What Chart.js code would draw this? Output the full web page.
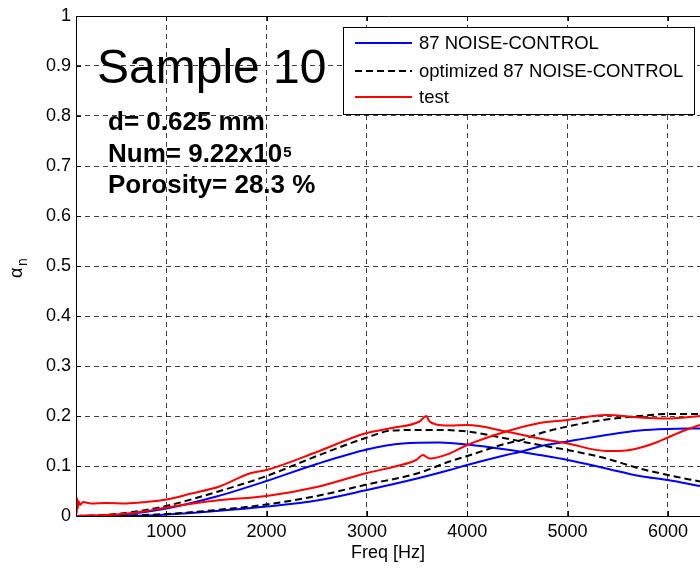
<!DOCTYPE html>
<html>
<head>
<meta charset="utf-8">
<script src="https://cdn.jsdelivr.net/npm/chart.js@4.4.0/dist/chart.umd.min.js"></script>
<style>
  html, body { margin: 0; padding: 0; background: #fff; }
</style>
</head>
<body>
<canvas id="alphaChart" width="700" height="568"></canvas>
<script>
// absorption curves, two branches per series
const blueUpperFreq = [100, 500, 1000, 1500, 2000, 2500, 3000, 3357, 3724, 4000, 4389, 4721, 5000, 5386, 5718, 6000, 6320];
const blueUpperAlpha = [0, 0.002, 0.015, 0.039, 0.07, 0.104, 0.133, 0.145, 0.147, 0.143, 0.133, 0.122, 0.112, 0.095, 0.08, 0.072, 0.06];
const blueLowerFreq = [100, 800, 1000, 1500, 2000, 2500, 3000, 3500, 3824, 4000, 4389, 4524, 4721, 5000, 5386, 5718, 6000, 6320];
const blueLowerAlpha = [0, 0.001, 0.003, 0.01, 0.019, 0.031, 0.052, 0.075, 0.092, 0.102, 0.122, 0.128, 0.139, 0.149, 0.162, 0.171, 0.174, 0.175];

const optUpperFreq = [100, 400, 700, 1000, 1500, 2000, 2500, 3000, 3250, 3500, 3724, 4000, 4389, 4721, 5000, 5386, 5718, 6000, 6320];
const optUpperAlpha = [0, 0.002, 0.009, 0.02, 0.048, 0.08, 0.12, 0.157, 0.171, 0.172, 0.172, 0.169, 0.155, 0.142, 0.132, 0.115, 0.095, 0.082, 0.069];
const optLowerFreq = [100, 600, 1000, 1500, 2000, 2500, 3000, 3500, 3824, 4000, 4389, 4524, 4721, 5000, 5386, 5718, 6000, 6320];
const optLowerAlpha = [0, 0.001, 0.004, 0.012, 0.023, 0.04, 0.063, 0.085, 0.109, 0.12, 0.145, 0.151, 0.165, 0.179, 0.193, 0.2, 0.204, 0.204];

const testUpperFreq = [100, 104, 108, 112, 118, 125, 140, 170, 250, 400, 600, 800, 1000, 1250, 1530, 1830, 2000, 2500, 2980, 3250, 3525, 3592, 3620, 3691, 3824, 4000, 4389, 4721, 5000, 5386, 5585, 5750, 5884, 6000, 6150, 6320];
const testUpperAlpha = [0, 0.04, 0.005, 0.035, 0.015, 0.03, 0.022, 0.028, 0.025, 0.026, 0.025, 0.028, 0.033, 0.045, 0.059, 0.085, 0.092, 0.128, 0.165, 0.176, 0.189, 0.2, 0.19, 0.183, 0.181, 0.182, 0.169, 0.155, 0.145, 0.13, 0.131, 0.138, 0.147, 0.157, 0.17, 0.182];
const testLowerFreq = [100, 500, 800, 1000, 1500, 2000, 2500, 3000, 3300, 3490, 3558, 3625, 3824, 4000, 4389, 4721, 5000, 5386, 5718, 6000, 6320];
const testLowerAlpha = [0, 0.003, 0.01, 0.017, 0.031, 0.04, 0.058, 0.086, 0.1, 0.112, 0.122, 0.115, 0.125, 0.142, 0.169, 0.186, 0.192, 0.202, 0.197, 0.195, 0.2];

const freqTicks = [1000, 2000, 3000, 4000, 5000, 6000];
const seriesNames = ['87 NOISE-CONTROL', 'optimized 87 NOISE-CONTROL', 'test'];
const noteLines = ['d= 0.625 mm', 'Num= 9.22x10', 'Porosity= 28.3 %'];

const FONT = '"Liberation Sans", Arial, Helvetica, sans-serif';

const toPoints = (f, a) => f.map((x, i) => ({ x: x, y: a[i] }));

const lineSet = (label, f, a, color, dash, order) => ({
    label: label,
    data: toPoints(f, a),
    borderColor: color,
    borderWidth: 2,
    borderDash: dash,
    pointRadius: 0,
    fill: false,
    cubicInterpolationMode: 'monotone',
    order: order
});

// box, inward ticks, text labels and legend drawn on top
const decorations = {
    id: 'decorations',
    afterDatasetsDraw(chart) {
        const ctx = chart.ctx;
        const a = chart.chartArea;
        const xs = chart.scales.x, ys = chart.scales.y;
        ctx.save();
        ctx.strokeStyle = '#000';
        ctx.lineWidth = 1;
        ctx.setLineDash([]);
        ctx.beginPath();
        ctx.moveTo(a.left + 0.5, a.bottom + 0.5);
        ctx.lineTo(a.left + 0.5, a.top + 0.5);
        ctx.lineTo(a.right + 0.5, a.top + 0.5);
        ctx.moveTo(a.left + 0.5, a.bottom + 0.5);
        ctx.lineTo(a.right + 0.5, a.bottom + 0.5);
        xs.ticks.forEach(t => {
            const px = Math.round(xs.getPixelForValue(t.value)) + 0.5;
            ctx.moveTo(px, a.bottom); ctx.lineTo(px, a.bottom - 5);
            ctx.moveTo(px, a.top); ctx.lineTo(px, a.top + 5);
        });
        ys.ticks.forEach(t => {
            const py = Math.round(ys.getPixelForValue(t.value)) + 0.5;
            ctx.moveTo(a.left, py); ctx.lineTo(a.left + 5, py);
        });
        ctx.stroke();

        ctx.fillStyle = '#000';
        ctx.textBaseline = 'alphabetic';
        ctx.textAlign = 'left';

        // y axis title: alpha with subscript n
        ctx.save();
        ctx.translate(17, 266);
        ctx.rotate(-Math.PI / 2);
        ctx.font = '18px ' + FONT;
        ctx.fillText('α', -12, 5);
        ctx.font = '14px ' + FONT;
        ctx.fillText('n', 0, 10);
        ctx.restore();

        ctx.font = '48px ' + FONT;
        ctx.fillText('Sample 10', 97, 83);

        ctx.font = 'bold 26px ' + FONT;
        ctx.fillText(noteLines[0], 108, 130);
        ctx.fillText(noteLines[1], 108, 162);
        const w = ctx.measureText(noteLines[1]).width;
        ctx.fillText(noteLines[2], 108, 193);
        ctx.font = 'bold 15px ' + FONT;
        ctx.fillText('5', 108 + w + 1, 157);

        // legend
        const lx = 343, ly = 27, lw = 351, lh = 87;
        ctx.fillStyle = '#fff';
        ctx.fillRect(lx, ly, lw, lh);
        ctx.strokeStyle = '#000';
        ctx.lineWidth = 1;
        ctx.strokeRect(lx + 0.5, ly + 0.5, lw, lh);
        const entries = [chart.data.datasets[0], chart.data.datasets[2], chart.data.datasets[4]];
        const rows = [43, 71, 97];
        ctx.font = '18.5px ' + FONT;
        ctx.textBaseline = 'middle';
        entries.forEach((ds, i) => {
            ctx.beginPath();
            ctx.strokeStyle = ds.borderColor;
            ctx.lineWidth = 2;
            ctx.setLineDash(ds.borderDash);
            ctx.moveTo(355, rows[i]);
            ctx.lineTo(412, rows[i]);
            ctx.stroke();
            ctx.fillStyle = '#000';
            ctx.fillText(ds.label, 419, rows[i] + 1);
        });
        ctx.restore();
    }
};

const ctx = document.getElementById('alphaChart').getContext('2d');
new Chart(ctx, {
    type: 'line',
    data: {
        datasets: [
            lineSet(seriesNames[0], blueUpperFreq, blueUpperAlpha, '#0000ff', [], 2),
            lineSet(seriesNames[0], blueLowerFreq, blueLowerAlpha, '#0000ff', [], 2),
            lineSet(seriesNames[1], optUpperFreq, optUpperAlpha, '#000000', [7, 4], 1),
            lineSet(seriesNames[1], optLowerFreq, optLowerAlpha, '#000000', [7, 4], 1),
            lineSet(seriesNames[2], testUpperFreq, testUpperAlpha, '#ff0000', [], 0),
            lineSet(seriesNames[2], testLowerFreq, testLowerAlpha, '#ff0000', [], 0)
        ]
    },
    options: {
        responsive: false,
        animation: false,
        layout: { padding: { top: 16, right: 0, left: 0, bottom: 0 } },
        plugins: {
            legend: { display: false },
            tooltip: { enabled: false }
        },
        scales: {
            x: {
                type: 'linear',
                min: 100,
                max: 6320,
                afterFit: s => { s.height = 52; },
                afterBuildTicks: s => { s.ticks = freqTicks.map(v => ({ value: v })); },
                ticks: {
                    autoSkip: false,
                    maxRotation: 0,
                    padding: 5,
                    color: '#000',
                    font: { family: FONT, size: 18 },
                    callback: v => String(v)
                },
                grid: { color: 'rgba(0,0,0,0.75)', lineWidth: 1, drawTicks: false },
                border: { display: false, dash: [5, 4] },
                title: {
                    display: true,
                    text: 'Freq [Hz]',
                    color: '#000',
                    font: { family: FONT, size: 18 },
                    padding: { top: 0, bottom: 4 }
                }
            },
            y: {
                min: 0,
                max: 1,
                afterFit: s => { s.width = 76; },
                ticks: {
                    stepSize: 0.1,
                    padding: 5,
                    color: '#000',
                    font: { family: FONT, size: 18 },
                    callback: v => String(Math.round(v * 10) / 10)
                },
                grid: { color: 'rgba(0,0,0,0.75)', lineWidth: 1, drawTicks: false },
                border: { display: false, dash: [5, 4] }
            }
        }
    },
    plugins: [decorations]
});
</script>
</body>
</html>
